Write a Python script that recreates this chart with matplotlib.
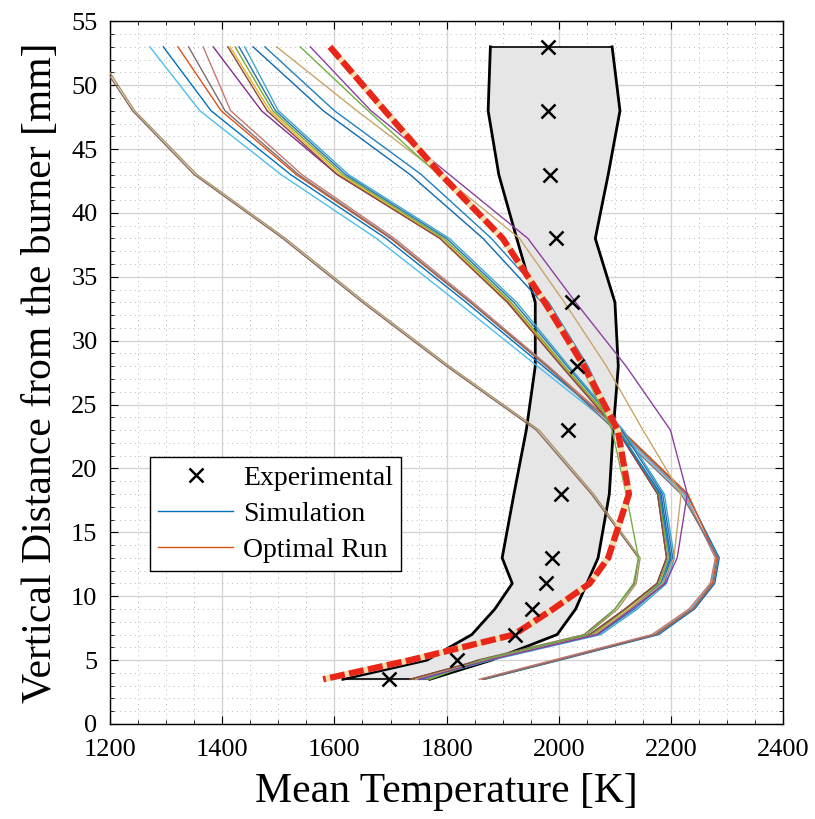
import numpy as np
import matplotlib
matplotlib.use("Agg")
import matplotlib.pyplot as plt
from matplotlib.ticker import MultipleLocator

plt.rcParams['font.family'] = ['Liberation Serif', 'DejaVu Serif']

# experimental points
y_exp = [53, 48, 43, 38, 33, 28, 23, 18, 13, 11, 9, 7, 5, 3.5]
t_exp = [1981, 1981, 1985, 1995, 2024, 2033, 2017, 2004, 1988, 1977, 1953, 1922, 1819, 1698]

# uncertainty band
t_band_lo = [1878, 1874, 1893, 1925, 1958, 1958, 1942, 1920, 1899, 1917, 1886, 1845, 1765, 1615]
t_band_hi = [2095, 2109, 2088, 2065, 2100, 2106, 2097, 2090, 2070, 2050, 2030, 1997, 1880, 1770]

# simulations, all on the same heights
y_sim = [53, 48, 43, 38, 33, 28, 23, 18, 13, 11, 9, 7, 5, 3.5]
sim_runs = {
    # left-most at the top, peak ~2140
    "#8a6a5c": [1165, 1240, 1350, 1508, 1650, 1800, 1960, 2058, 2142, 2135, 2100, 2045, 1855, 1760],
    "#a89468": [1170, 1244, 1355, 1513, 1655, 1805, 1965, 2062, 2145, 2138, 2105, 2050, 1860, 1765],
    # peak ~2285
    "#4DBEEE": [1271, 1360, 1505, 1675, 1820, 1962, 2105, 2222, 2280, 2272, 2235, 2170, 1995, 1862],
    "#0072BD": [1295, 1380, 1522, 1692, 1835, 1972, 2110, 2228, 2286, 2278, 2242, 2178, 2002, 1868],
    "#D95319": [1321, 1398, 1532, 1700, 1842, 1978, 2112, 2230, 2282, 2274, 2238, 2172, 1998, 1864],
    "#c47a70": [1366, 1415, 1542, 1707, 1847, 1982, 2108, 2225, 2279, 2270, 2232, 2166, 1990, 1858],
    "#7d6e70": [1340, 1405, 1536, 1702, 1843, 1979, 2100, 2218, 2284, 2276, 2240, 2175, 2000, 1866],
    # peak ~2195
    "#7E2F8E": [1384, 1470, 1605, 1790, 1910, 2005, 2104, 2176, 2192, 2175, 2118, 2055, 1860, 1735],
    "#EDB120": [1414, 1485, 1610, 1790, 1912, 2008, 2106, 2180, 2197, 2180, 2125, 2062, 1870, 1745],
    "#77AC30": [1423, 1490, 1615, 1795, 1915, 2010, 2108, 2178, 2195, 2178, 2120, 2060, 1865, 1740],
    "#2a6fb5": [1430, 1495, 1620, 1800, 1920, 2015, 2112, 2185, 2203, 2188, 2135, 2070, 1875, 1750],
    "#8B4A3A": [1410, 1480, 1605, 1788, 1908, 2005, 2104, 2176, 2192, 2175, 2118, 2055, 1860, 1735],
    "#3fa8c8": [1440, 1500, 1625, 1805, 1925, 2018, 2115, 2188, 2206, 2192, 2140, 2075, 1880, 1755],
    # right of the optimal run at the top
    "#0d6ab0": [1455, 1580, 1735, 1865, 1970, 2045, 2105, 2182, 2200, 2185, 2130, 2068, 1872, 1752],
    "#1f80c0": [1476, 1600, 1755, 1880, 1982, 2052, 2106, 2180, 2198, 2182, 2128, 2066, 1870, 1748],
    "#c9a46a": [1497, 1640, 1790, 1930, 2010, 2085, 2150, 2218, 2205, 2185, 2128, 2065, 1870, 1745],
    "#6fb040": [1539, 1660, 1785, 1895, 1978, 2040, 2095, 2120, 2142, 2133, 2100, 2050, 1862, 1770],
    "#8d3fa0": [1557, 1665, 1805, 1945, 2030, 2120, 2199, 2229, 2211, 2190, 2130, 2068, 1875, 1750],
}

# optimal run
y_opt = [53, 48, 43, 38, 33, 28, 23, 18, 13, 11, 9, 7, 5, 3.5]
t_opt = [1592, 1690, 1790, 1900, 1975, 2045, 2105, 2125, 2088, 2055, 1990, 1920, 1735, 1580]

fig = plt.figure(figsize=(8.15, 8.19), dpi=100)
ax = fig.add_axes([0.135, 0.116, 0.826, 0.858])

ax.fill_betweenx(y_exp, t_band_lo, t_band_hi, color="#e6e6e6", zorder=1)
ax.plot(t_band_lo, y_exp, color="k", lw=2, zorder=2)
ax.plot(t_band_hi, y_exp, color="k", lw=2, zorder=2)
ax.plot([t_band_lo[0], t_band_hi[0]], [y_exp[0], y_exp[0]], color="k", lw=1.2, zorder=2)
ax.plot([t_band_lo[-1], t_band_hi[-1]], [y_exp[-1], y_exp[-1]], color="k", lw=1.2, zorder=2)

for col, t in sim_runs.items():
    ax.plot(t, y_sim, color=col, lw=1.0, zorder=3)

ax.plot(t_opt, y_opt, color="#f3dcae", lw=4.5, zorder=4, solid_capstyle="butt")
ax.plot(t_opt, y_opt, color="#e8261a", lw=4.5, zorder=5, dashes=(2.4, 0.7))

ax.plot(t_exp, y_exp, "x", color="k", ms=10, mew=1.8, zorder=6)

# legend handles
h_exp, = ax.plot([], [], "x", color="k", ms=10, mew=1.8)
h_sim, = ax.plot([], [], color="#0072BD", lw=1)
h_opt, = ax.plot([], [], color="#D95319", lw=1)
leg = ax.legend([h_exp, h_sim, h_opt], ["Experimental", "Simulation", "Optimal Run"],
                loc="lower left", bbox_to_anchor=(0.059, 0.2176), fontsize=20,
                fancybox=False, framealpha=1, edgecolor="k", borderpad=0.3,
                labelspacing=0.38, handlelength=2.7, handletextpad=0.35, borderaxespad=0)
leg.get_frame().set_linewidth(1.0)

ax.set_xlim(1200, 2400)
ax.set_ylim(0, 55)
ax.xaxis.set_major_locator(MultipleLocator(200))
ax.xaxis.set_minor_locator(MultipleLocator(50))
ax.yaxis.set_major_locator(MultipleLocator(5))
ax.yaxis.set_minor_locator(MultipleLocator(1))
ax.grid(which="major", color="#d4d4d4", lw=1.0)
ax.grid(which="minor", color="#b8b8b8", lw=0.7, linestyle=(0, (1, 4)))
ax.set_axisbelow(True)
ax.tick_params(which="both", direction="in", top=True, right=True, labelsize=19)
ax.tick_params(which="major", length=6)
ax.tick_params(axis="x", which="major", pad=11)
ax.tick_params(axis="y", which="major", pad=9)
ax.tick_params(which="minor", length=3)
for s in ax.spines.values():
    s.set_linewidth(1.0)

ax.set_xlabel("Mean Temperature [K]", fontsize=30, labelpad=8)
ax.set_ylabel("Vertical Distance from the burner [mm]", fontsize=30, labelpad=8)

fig.savefig("out.png", dpi=100)
